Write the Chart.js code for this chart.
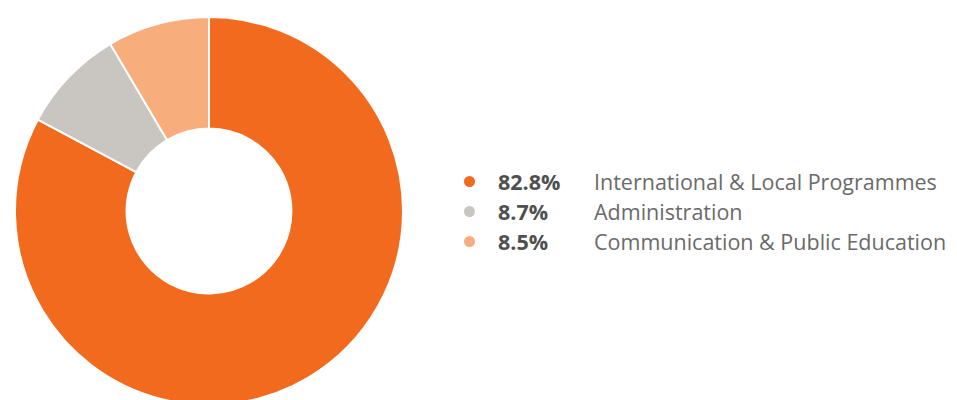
<!DOCTYPE html>
<html>
<head>
<meta charset="utf-8">
<script src="https://cdn.jsdelivr.net/npm/chart.js@4"></script>
<style>
    html, body { margin: 0; padding: 0; width: 957px; height: 400px; overflow: hidden; background: #fff; }
    #chartBox { position: absolute; left: 14px; top: 16px; width: 390px; height: 390px; }
    #legend { position: absolute; left: 464px; top: 166px; font-family: "Open Sans", sans-serif; font-size: 21.5px; }
    .row { display: flex; align-items: center; height: 30px; }
    .dot { flex: none; width: 11px; height: 11px; border-radius: 50%; margin-right: 23px; }
    .pct { flex: none; width: 96px; font-weight: 700; color: #505050; }
    .lbl { color: #6a6a6a; white-space: nowrap; }
</style>
</head>
<body>
<div id="chartBox"><canvas id="donut"></canvas></div>
<div id="legend"></div>

<script>
const labels = ["International & Local Programmes", "Administration", "Communication & Public Education"];
const shares = [82.8, 8.7, 8.5];
const colors = ["#F26A1E", "#C9C5C0", "#F8AE7C"];

/**
 * Doughnut
 */
function drawDonut() {
    const ctx = document.getElementById("donut");
    if (!ctx) return;

    new Chart(ctx, {
        type: "doughnut",
        data: {
            labels: labels,
            datasets: [{
                data: shares,
                backgroundColor: colors,
                borderColor: "#fff",
                borderWidth: 2
            }]
        },
        options: {
            responsive: true,
            maintainAspectRatio: false,
            animation: false,
            cutout: "42.5%",
            plugins: {
                legend: { display: false },
                tooltip: { enabled: false }
            },
            events: []
        }
    });
}

/**
 * Legend (html, so text stays text)
 */
function drawLegend() {
    const box = document.getElementById("legend");
    if (!box) return;

    labels.forEach((name, i) => {
        const row = document.createElement("div");
        row.className = "row";
        row.innerHTML = `
            <span class="dot" style="background:${colors[i]}"></span>
            <span class="pct">${shares[i]}%</span>
            <span class="lbl">${name}</span>
        `;
        box.appendChild(row);
    });
}

drawDonut();
drawLegend();
</script>
</body>
</html>
